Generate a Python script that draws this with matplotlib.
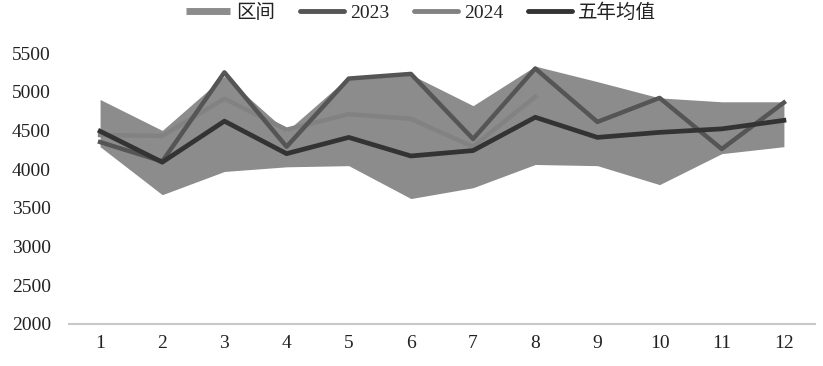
import matplotlib
matplotlib.use("Agg")
import numpy as np
import matplotlib.pyplot as plt
from matplotlib.lines import Line2D

months = list(range(1, 13))
band_low = [4290, 3670, 3970, 4030, 4045, 3620, 3760, 4060, 4045, 3800, 4200, 4290]
band_high = [4900, 4500, 5200, 4490, 5190, 5220, 4820, 5330, 5130, 4920, 4870, 4870]
y2023 = [4350, 4100, 5250, 4290, 5170, 5230, 4390, 5300, 4610, 4920, 4260, 4860]
y2024 = [4440, 4430, 4910, 4510, 4710, 4650, 4290, 4935]
avg5 = [4490, 4090, 4620, 4200, 4410, 4170, 4240, 4670, 4410, 4475, 4520, 4630]

c_band = "#8c8c8c"
c_2023 = "#555555"
c_2024 = "#828282"
c_avg = "#333333"

plt.rcParams['font.family'] = ['Liberation Serif', 'Noto Sans CJK SC', 'DejaVu Sans']

fig = plt.figure(figsize=(8.23, 3.66), dpi=100)
ax = fig.add_axes([69/823, 1 - 324/366, (815 - 69)/823, (324 - 53)/366])

ax.fill_between(months, band_low, band_high, color=c_band, lw=0, zorder=1)
ax.plot(months, y2023, color=c_2023, lw=3.2, zorder=3)
ax.plot(months[:len(y2024)], y2024, color=c_2024, lw=3.2, zorder=2)
ax.plot(months, avg5, color=c_avg, lw=3.4, zorder=4)

ax.set_xlim(0.5, 12.5)
ax.set_ylim(2000, 5500)
ax.set_xticks(months)
ax.set_yticks(range(2000, 5501, 500))
for s in ["top", "right", "left"]:
    ax.spines[s].set_visible(False)
ax.spines["bottom"].set_color("#c8c8c8")
ax.spines["bottom"].set_linewidth(1.5)
ax.tick_params(axis="both", length=0, labelsize=14, colors="#222222")
ax.tick_params(axis="x", pad=8)
ax.tick_params(axis="y", pad=41)
for lab in ax.get_yticklabels():
    lab.set_horizontalalignment("left")

handles = [
    Line2D([], [], color=c_band, lw=5, solid_capstyle="butt"),
    Line2D([], [], color=c_2023, lw=3.5, solid_capstyle="round"),
    Line2D([], [], color=c_2024, lw=3.5, solid_capstyle="round"),
    Line2D([], [], color=c_avg, lw=3.5, solid_capstyle="round"),
]
fig.legend(handles, ["区间", "2023", "2024", "五年均值"], loc="center",
           bbox_to_anchor=(421/823, 1 - 13/366), ncol=4, frameon=False,
           fontsize=14, handlelength=2.3, handletextpad=0.3, columnspacing=1.25,
           labelcolor="#222222")

fig.savefig("out.png", dpi=100)
